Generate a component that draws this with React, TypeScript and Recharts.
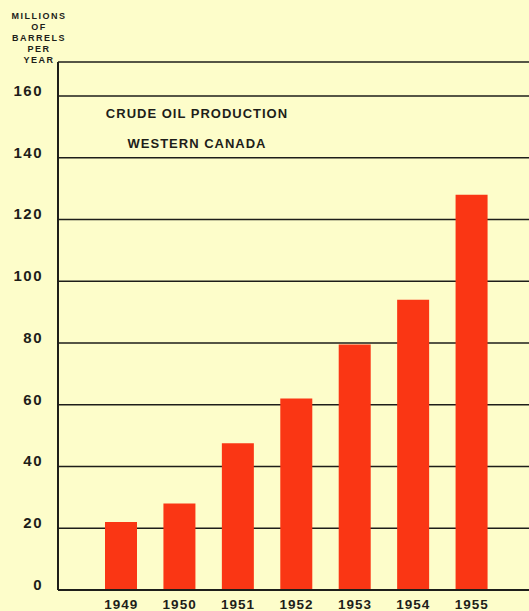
import React from "react";
import { BarChart, Bar, XAxis, YAxis, CartesianGrid } from "recharts";

const years = ["1949", "1950", "1951", "1952", "1953", "1954", "1955"];
const production = [22, 28, 47.5, 62, 79.5, 94, 128];
const yTicks = [0, 20, 40, 60, 80, 100, 120, 140, 160, 171];
const unitLines = ["MILLIONS", "OF", "BARRELS", "PER", "YEAR"];
const titleLines = ["CRUDE OIL PRODUCTION", "WESTERN CANADA"];

const data = years.map((year, i) => ({ year, value: production[i] }));

const ink = "#1e1e1a";
const paper = "#fdfdca";
const barRed = "#fa3614";
const font = "'Liberation Sans', Arial, sans-serif";

function YTick(props: { x?: number; y?: number; payload?: { value?: number } }) {
  const v = props.payload?.value;
  if (v === 171) return null;
  return (
    <text
      x={(props.x ?? 0) + 1}
      y={(props.y ?? 0) - 4}
      textAnchor="end"
      dominantBaseline="middle"
      fill={ink}
      fontSize={15}
      fontWeight="bold"
      fontFamily={font}
      letterSpacing={1.5}
    >
      {v}
    </text>
  );
}

function XTick(props: { x?: number; y?: number; payload?: { value?: string } }) {
  return (
    <text
      x={props.x ?? 0}
      y={(props.y ?? 0) + 11}
      textAnchor="middle"
      fill={ink}
      fontSize={13.5}
      fontWeight="bold"
      fontFamily={font}
      letterSpacing={1}
    >
      {props.payload?.value}
    </text>
  );
}

export default function App() {
  return (
    <div style={{ position: "absolute", left: 0, top: 0, width: 529, height: 611, background: paper, overflow: "hidden" }}>
      <BarChart width={529} height={611} data={data} margin={{ top: 62, right: 0, bottom: 0, left: 0 }}>
        <CartesianGrid vertical={false} stroke={ink} strokeWidth={1.5} />
        <XAxis
          dataKey="year"
          height={21}
          tickLine={false}
          axisLine={{ stroke: ink, strokeWidth: 2 }}
          tick={<XTick />}
          padding={{ left: 34, right: 28 }}
        />
        <YAxis
          width={58}
          domain={[0, 171]}
          ticks={yTicks}
          interval={0}
          tickLine={false}
          axisLine={{ stroke: ink, strokeWidth: 2 }}
          tick={<YTick />}
          tickMargin={10}
        />
        <Bar dataKey="value" fill={barRed} barSize={32} isAnimationActive={false} />
      </BarChart>
      <div
        style={{
          position: "absolute",
          left: 0,
          top: 11,
          width: 78,
          textAlign: "center",
          fontFamily: font,
          fontWeight: "bold",
          fontSize: 9,
          lineHeight: "11px",
          letterSpacing: 1.5,
          color: ink,
        }}
      >
        {unitLines.map((l) => (
          <div key={l}>{l}</div>
        ))}
      </div>
      <div
        style={{
          position: "absolute",
          left: 96,
          top: 99,
          width: 202,
          textAlign: "center",
          fontFamily: font,
          fontWeight: "bold",
          fontSize: 13,
          lineHeight: "30px",
          letterSpacing: 1,
          color: ink,
        }}
      >
        {titleLines.map((l) => (
          <div key={l}>{l}</div>
        ))}
      </div>
    </div>
  );
}
